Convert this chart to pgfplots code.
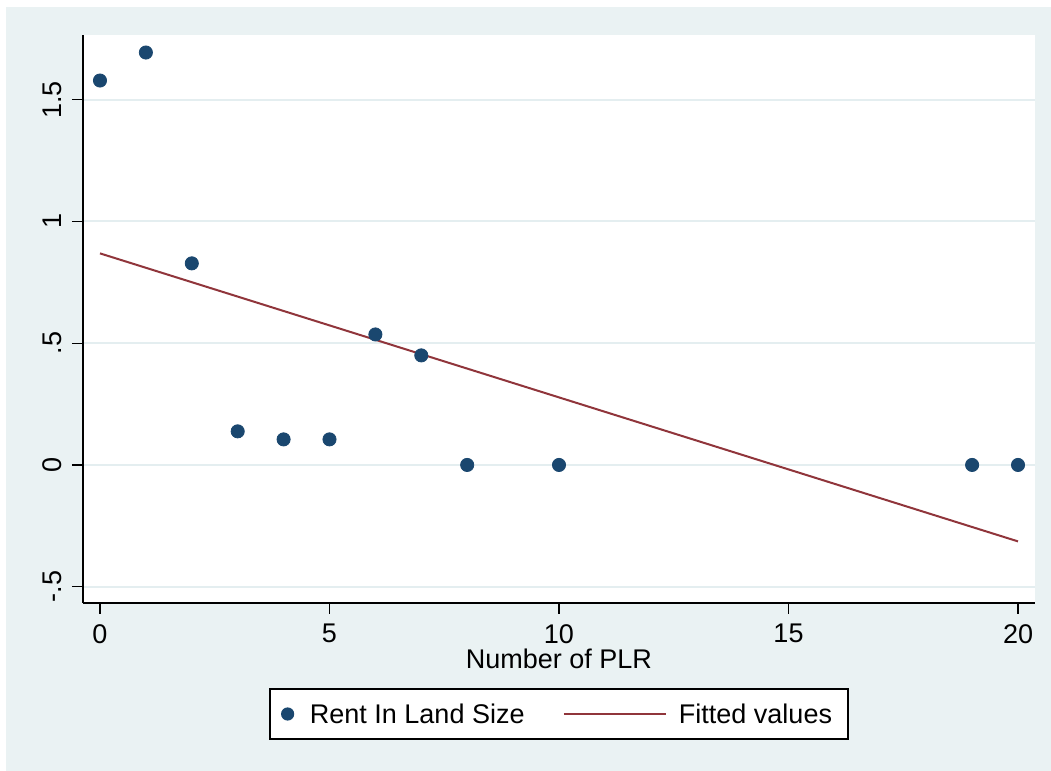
\documentclass[border=0pt]{standalone}
\usepackage{fontspec}
\setmainfont{Liberation Sans}
\usepackage{pgfplots}
\pgfplotsset{compat=1.18}
\definecolor{bgc}{RGB}{234,242,243}
\definecolor{gridc}{RGB}{228,238,240}
\definecolor{navy}{RGB}{26,71,111}
\definecolor{maroon}{RGB}{144,53,59}
\begin{document}
\fontsize{13.5}{16}\selectfont
\begin{tikzpicture}
\useasboundingbox (0,0) rectangle (525.5pt,385.5pt);
\fill[white] (0,0) rectangle (525.5pt,385.5pt);
\fill[bgc] (3pt,0) rectangle (525.5pt,382pt);
\begin{axis}[
  at={(41.5pt,84pt)}, anchor=south west,
  scale only axis, width=476pt, height=284pt,
  xmin=-0.37, xmax=20.37, ymin=-0.567, ymax=1.766,
  axis background/.style={fill=white},
  axis x line*=bottom, axis y line*=left,
  axis line style={-, black, line width=0.6pt},
  tick align=outside, major tick length=5.5pt,
  every tick/.style={black, line width=0.6pt},
  xtick={0,5,10,15,20}, xticklabels={0,5,10,15,20},
  ytick={-0.5,0,0.5,1,1.5}, yticklabels={-.5,0,.5,1,1.5},
  minor tick num=0,
  ymajorgrids, major grid style={gridc, line width=1pt},
  xticklabel style={anchor=north, inner sep=0pt, yshift=-5pt},
  yticklabel style={xshift=-5pt, rotate=90, anchor=south, inner sep=0pt},
  xlabel={Number of PLR},
  xlabel style={at={(axis description cs:0.5,0)}, anchor=base, yshift=-33pt, inner sep=0pt},
  legend columns=2,
  legend style={at={(axis description cs:0.5,-0.1954)}, anchor=center,
    draw=black, line width=0.6pt, fill=white, inner xsep=0pt, inner ysep=0pt,
    column sep=0pt, nodes={inner sep=0pt, text height=17.5pt, text depth=7.5pt}, cells={anchor=center}},
]
\addplot[only marks, mark=*, mark size=3.3pt, color=navy,
  legend image code/.code={\path[draw=none,fill=none] (0pt,-3.5pt) rectangle (20pt,3.5pt); \fill[navy, draw=none] (8.85pt,0) circle (3.3pt);}]
  coordinates {(0,1.579) (1,1.694) (2,0.828) (3,0.138) (4,0.105) (5,0.105) (6,0.536) (7,0.450) (8,0) (10,0) (19,0) (20,0)};
\addlegendentry{Rent In Land Size}
\addplot[maroon, line width=1pt, no marks,
  legend image code/.code={\path[draw=none,fill=none] (0pt,-3.5pt) rectangle (77.2pt,3.5pt); \draw[maroon, line width=1pt] (19.7pt,0) -- (70.7pt,0);}]
  coordinates {(0,0.869) (20,-0.314)};
\addlegendentry{Fitted values\hspace*{8pt}}
\end{axis}
\end{tikzpicture}
\end{document}
